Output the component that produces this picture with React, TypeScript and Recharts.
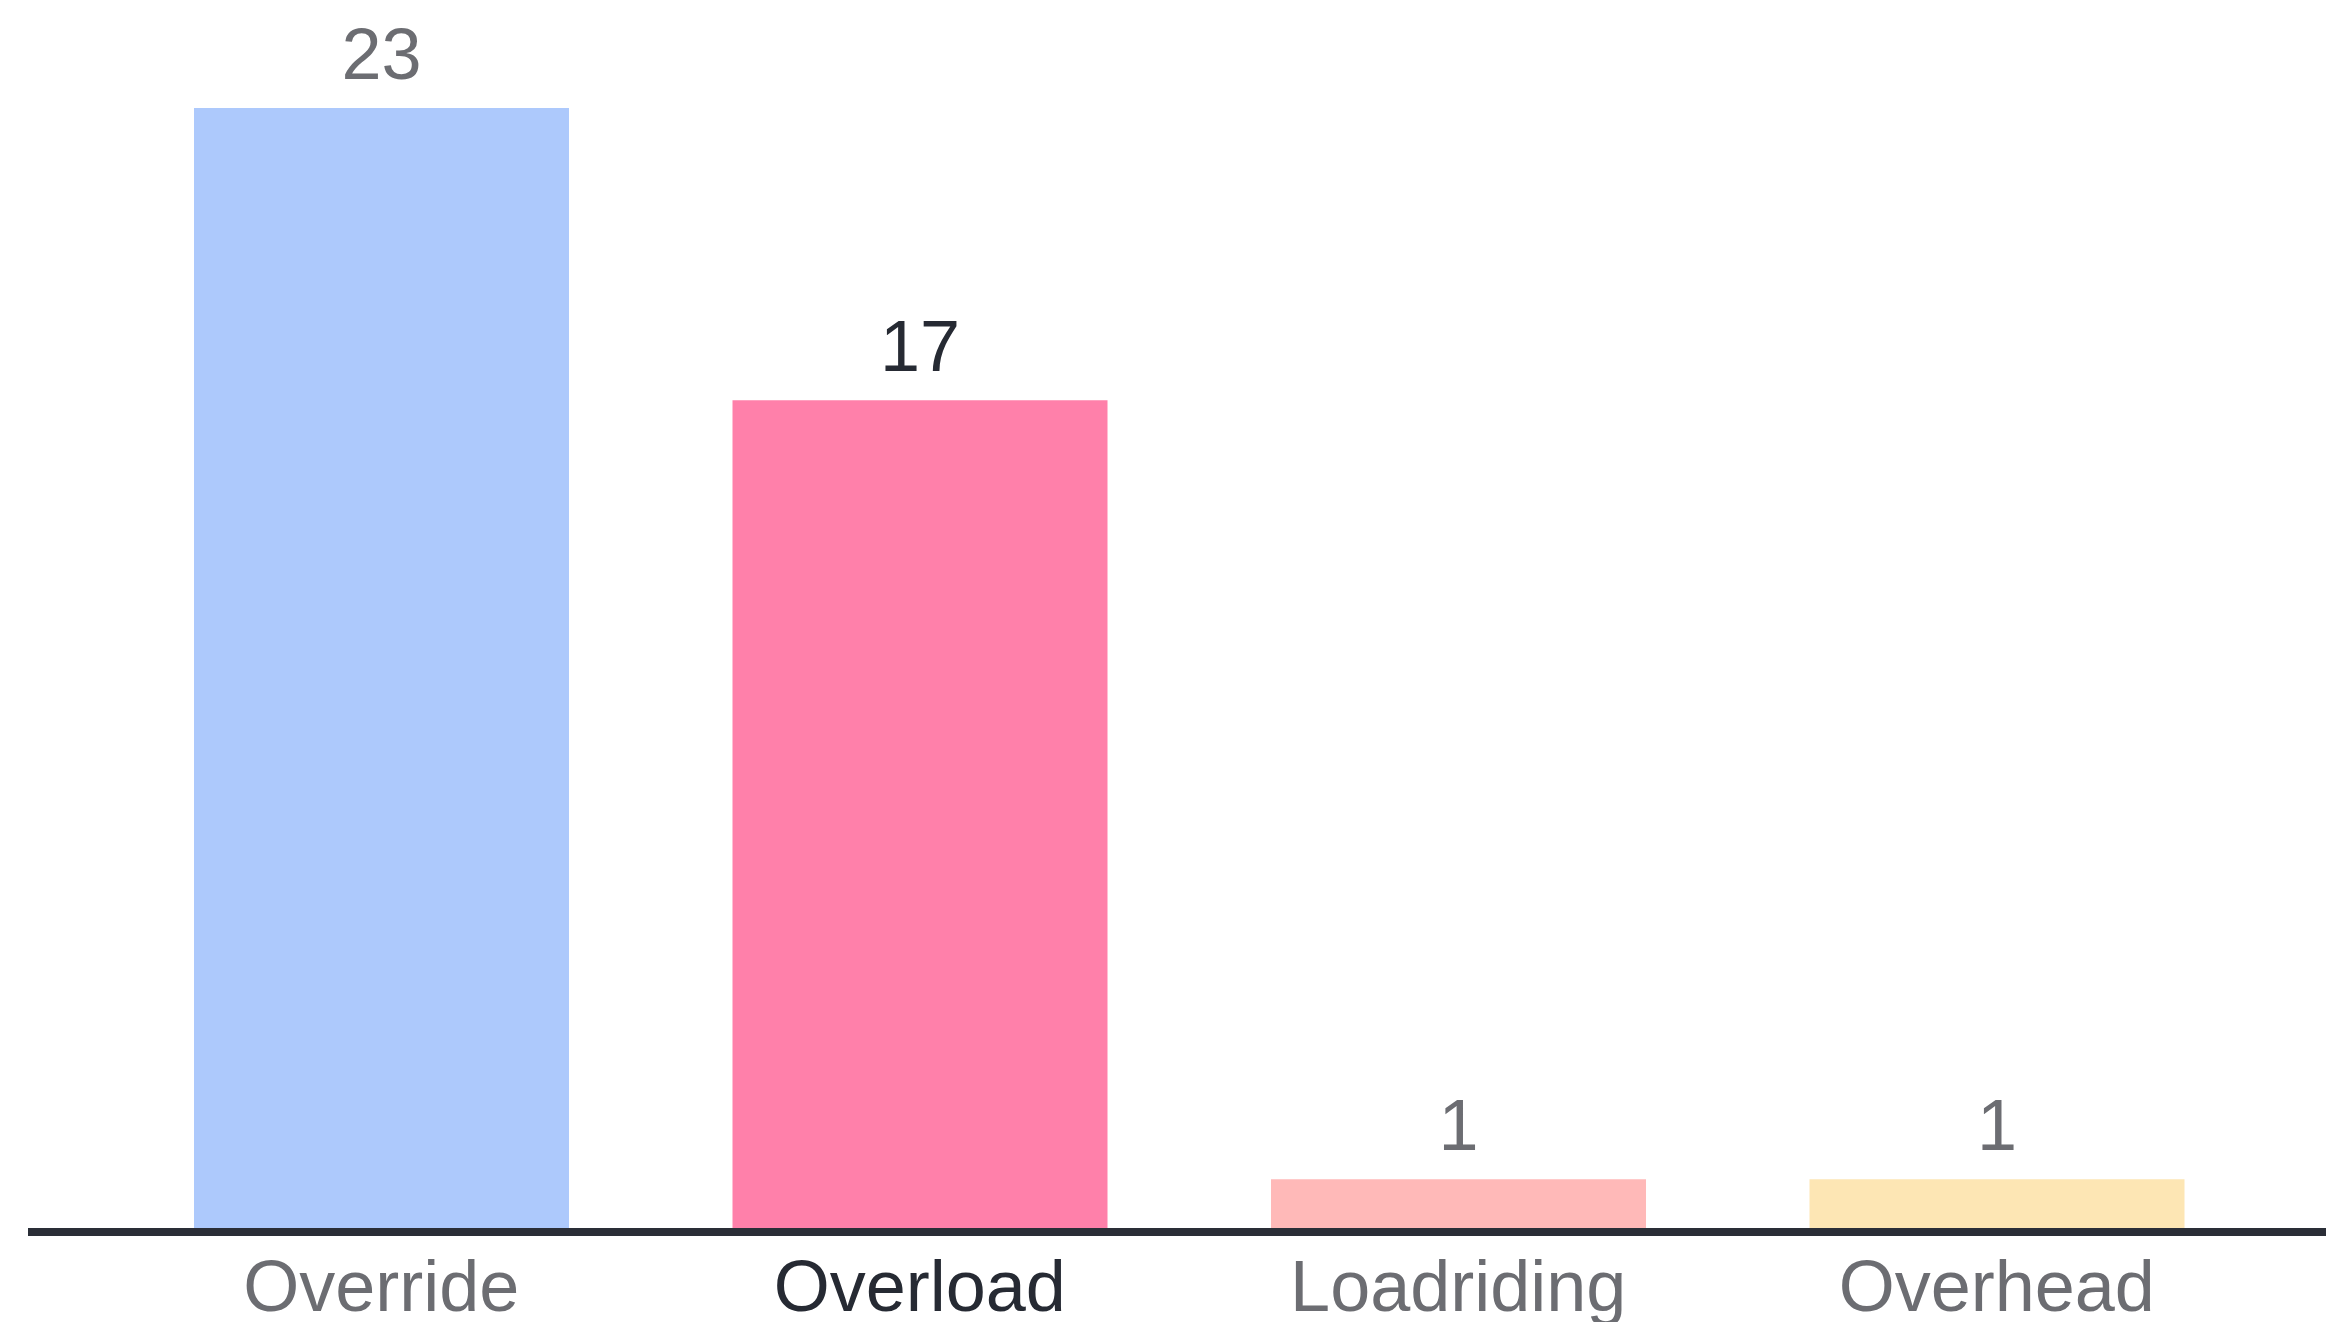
import { BarChart, Bar, XAxis, YAxis, Cell, LabelList } from "recharts";

const categories = ["Override", "Overload", "Loadriding", "Overhead"];
const counts = [23, 17, 1, 1];
const barColors = ["#adc9fc", "#ff80aa", "#ffb9b8", "#fde6b4"];
const highlighted = "Overload";

const FONT = "'Liberation Sans', Arial, sans-serif";
const MUTED = "#6c6d72";
const STRONG = "#262a33";

const data = categories.map((name, i) => ({ name, value: counts[i] }));

const CategoryTick = (props: any) => {
  const { x, y, payload } = props;
  const active = payload.value === highlighted;
  return (
    <text
      x={x}
      y={y}
      dy="0.71em"
      textAnchor="middle"
      fontFamily={FONT}
      fontSize={72}
      fill={active ? STRONG : MUTED}
    >
      {payload.value}
    </text>
  );
};

const ValueLabel = (props: any) => {
  const { x, y, width, value, index } = props;
  const active = categories[index] === highlighted;
  return (
    <text
      x={x + width / 2}
      y={y - 29}
      textAnchor="middle"
      fontFamily={FONT}
      fontSize={72}
      fill={active ? STRONG : MUTED}
    >
      {value}
    </text>
  );
};

export default function App() {
  return (
    <div style={{ position: "fixed", left: 0, top: 0, background: "#fff" }}>
      <BarChart
        width={2326}
        height={1322}
        data={data}
        margin={{ top: 108, right: 0, bottom: 0, left: 28 }}
      >
        <XAxis
          dataKey="name"
          height={94}
          padding={{ left: 84, right: 60 }}
          tickLine={false}
          tickSize={0}
          tickMargin={32}
          tick={<CategoryTick />}
          axisLine={{ stroke: "#2a2e37", strokeWidth: 8, transform: "translate(0,4)" }}
        />
        <YAxis hide domain={[0, "dataMax"]} />
        <Bar dataKey="value" barSize={375} isAnimationActive={false}>
          {data.map((d, i) => (
            <Cell key={d.name} fill={barColors[i]} />
          ))}
          <LabelList dataKey="value" content={<ValueLabel />} />
        </Bar>
      </BarChart>
    </div>
  );
}
